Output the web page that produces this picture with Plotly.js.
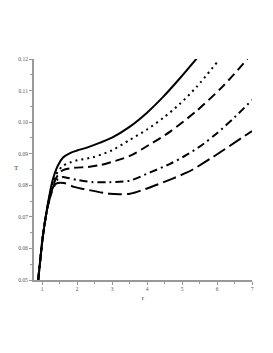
<!DOCTYPE html>
<html>
<head>
<meta charset="utf-8">
<script src="https://cdn.plot.ly/plotly-3.0.1.min.js"></script>
<style>html,body{margin:0;padding:0;background:#fff;}#chart{width:273px;height:353px;}</style>
</head>
<body>
<div id="chart"></div>
<script>
// shared steep start
var rStart = [0.89, 0.95, 1.01, 1.1];
var TStart = [0.05, 0.0565, 0.0627, 0.0697];

var rSolid = rStart.concat([1.2, 1.3, 1.45, 1.6, 1.8, 2.0, 2.3, 2.66, 3.0, 3.5, 4.0, 4.46, 4.94, 5.43]);
var TSolid = TStart.concat([0.0762, 0.0815, 0.0862, 0.0888, 0.0902, 0.0910, 0.0920, 0.0935, 0.0951, 0.0985, 0.1030, 0.1080, 0.1139, 0.1203]);

var rDot = rStart.concat([1.2, 1.3, 1.45, 1.6, 1.8, 2.0, 2.46, 3.0, 3.51, 3.99, 4.47, 4.94, 5.42, 6.01]);
var TDot = TStart.concat([0.0758, 0.0805, 0.0843, 0.0862, 0.0872, 0.0879, 0.0889, 0.0911, 0.0944, 0.0976, 0.1014, 0.1058, 0.1112, 0.1191]);

var rDash = rStart.concat([1.2, 1.3, 1.45, 1.6, 1.9, 2.3, 2.66, 3.0, 3.51, 4.09, 4.66, 5.42, 6.18, 6.87]);
var TDash = TStart.concat([0.0755, 0.0795, 0.0832, 0.0848, 0.0855, 0.0858, 0.0864, 0.0874, 0.0893, 0.0930, 0.0970, 0.1036, 0.1115, 0.1200]);

var rDashDot = rStart.concat([1.2, 1.3, 1.43, 1.6, 1.71, 2.0, 2.46, 2.94, 3.51, 4.09, 4.66, 5.13, 5.6, 6.0, 6.5, 7.0]);
var TDashDot = TStart.concat([0.0752, 0.0790, 0.0817, 0.0826, 0.0824, 0.0817, 0.0810, 0.0810, 0.0815, 0.0841, 0.0868, 0.0896, 0.0930, 0.0965, 0.1015, 0.1070]);

var rLongDash = rStart.concat([1.2, 1.3, 1.4, 1.63, 1.91, 2.2, 2.94, 3.23, 3.51, 4.0, 4.75, 5.13, 5.31, 5.89, 7.0]);
var TLongDash = TStart.concat([0.0750, 0.0785, 0.0805, 0.0807, 0.0795, 0.0788, 0.0773, 0.0772, 0.0773, 0.0790, 0.0822, 0.0840, 0.0850, 0.0890, 0.0972]);

var xTicks = [1, 2, 3, 4, 5, 6, 7];
var yTicks = [0.05, 0.06, 0.07, 0.08, 0.09, 0.10, 0.11, 0.12];
var yTickText = ["0.05", "0.06", "0.07", "0.08", "0.09", "0.10", "0.11", "0.12"];

function tr(x, y, dash) {
  return {x: x, y: y, type: 'scatter', mode: 'lines',
    line: {color: '#000', width: 2, dash: dash, shape: 'spline', smoothing: 0.8},
    hoverinfo: 'skip', showlegend: false};
}

var data = [
  tr(rSolid, TSolid, 'solid'),
  tr(rDot, TDot, '2px,4px'),
  tr(rDash, TDash, '9px,5px'),
  tr(rDashDot, TDashDot, '8px,4px,2px,4px'),
  tr(rLongDash, TLongDash, '14px,5px')
];

var tickFont = {family: 'Liberation Serif, serif', size: 5.5, color: '#555'};
var layout = {
  width: 273, height: 353,
  margin: {l: 34, r: 21, t: 59, b: 73},
  paper_bgcolor: '#fff', plot_bgcolor: '#fff',
  showlegend: false,
  xaxis: {range: [0.77, 7], tickvals: xTicks, ticktext: xTicks.map(String),
    showgrid: false, zeroline: false, showline: true, linecolor: '#999', linewidth: 1.5,
    ticks: 'outside', ticklen: 3, tickcolor: '#999', tickwidth: 1, tickfont: tickFont,
    minor: {dtick: 0.5, tick0: 0.5, ticks: 'outside', ticklen: 2, tickcolor: '#999', showgrid: false},
    title: {text: 'r', font: {family: 'Liberation Serif, serif', size: 7, color: '#333'}, standoff: 4}},
  yaxis: {range: [0.05, 0.12], tickvals: yTicks, ticktext: yTickText,
    showgrid: false, zeroline: false, showline: true, linecolor: '#999', linewidth: 2,
    ticks: 'outside', ticklen: 3, tickcolor: '#999', tickwidth: 1, tickfont: tickFont,
    minor: {dtick: 0.005, tick0: 0.05, ticks: 'outside', ticklen: 2, tickcolor: '#999', showgrid: false}},
  annotations: [{text: 'T', x: 0, y: 0, xref: 'paper', yref: 'paper', showarrow: false,
    font: {family: 'Liberation Serif, serif', size: 7, color: '#333'}}]
};
// annotation position in pixels -> paper coords
layout.annotations[0].x = (12 - 34) / (273 - 34 - 21);
layout.annotations[0].y = (353 - 73 - 168) / (353 - 59 - 73);
Plotly.newPlot('chart', data, layout, {staticPlot: true, displayModeBar: false});
</script>
</body>
</html>
